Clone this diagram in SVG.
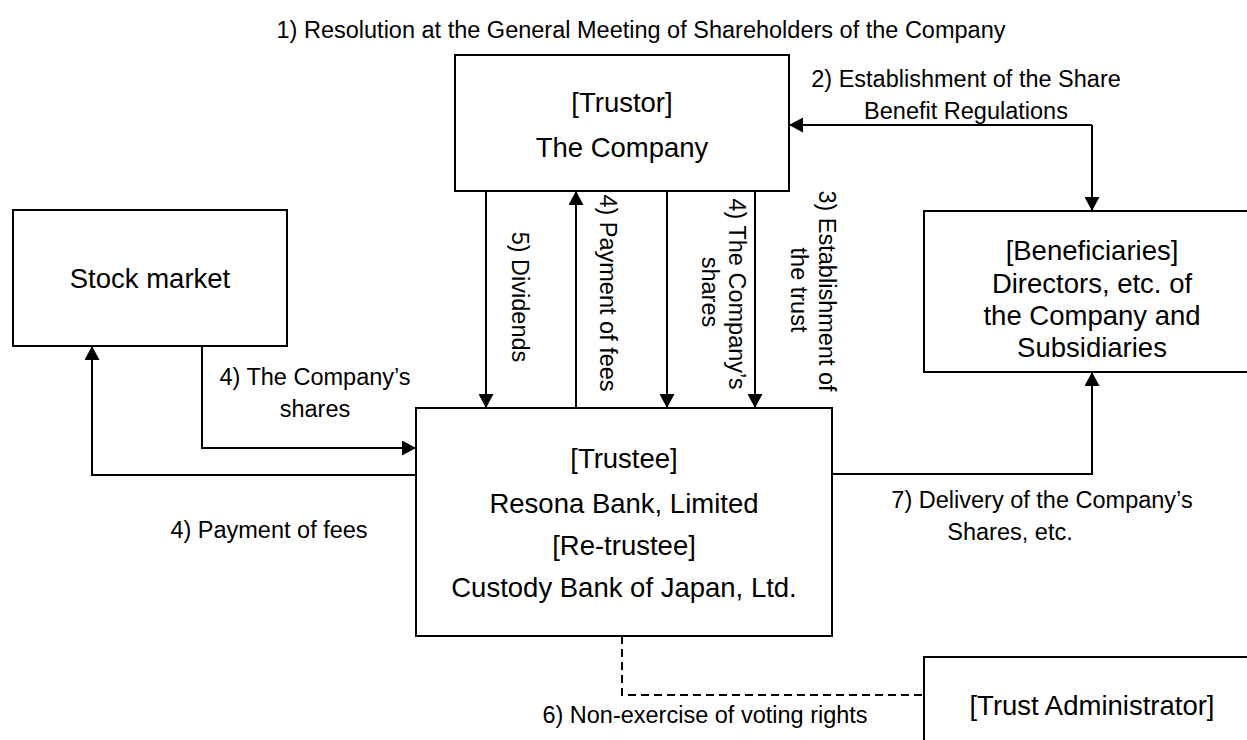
<svg xmlns="http://www.w3.org/2000/svg" width="1247" height="740" viewBox="0 0 1247 740">
<style>
.box{fill:#fff;stroke:#000;stroke-width:2}
.nt{font-family:"Liberation Sans",Arial,sans-serif;font-size:27.5px;fill:#000;text-anchor:middle}
.lb{font-family:"Liberation Sans",Arial,sans-serif;font-size:23.5px;fill:#000;text-anchor:middle}
.ln{fill:none;stroke:#000;stroke-width:2}
.arr{marker-end:url(#ah)}
.dash{fill:none;stroke:#000;stroke-width:2;stroke-dasharray:8 5}
</style>
<defs>
<marker id="ah" markerUnits="userSpaceOnUse" markerWidth="15" markerHeight="15" refX="14" refY="7.5" orient="auto-start-reverse">
<path d="M0,0 L14,7.5 L0,15 Z" fill="#000"/>
</marker>
</defs>
<rect width="1247" height="740" fill="#fff"/>

<g id="connectors">
<path class="ln arr" d="M486,191 V408"/>
<path class="ln arr" d="M576,408 V191"/>
<path class="ln arr" d="M667,191 V408"/>
<path class="ln arr" d="M755,191 V408"/>
<path class="ln arr" d="M1092,125 H789" />
<path class="ln arr" d="M1092,125 V211"/>
<path class="ln arr" d="M832,474 H1092 V372"/>
<path class="ln arr" d="M202,346 V448 H416"/>
<path class="ln arr" d="M416,475 H92 V346"/>
<path class="dash" d="M622,636 V695 H924"/>
</g>

<g id="labels">
<text class="lb" x="641" y="38">1) Resolution at the General Meeting of Shareholders of the Company</text>
<text class="lb" x="966" y="87">2) Establishment of the Share</text>
<text class="lb" x="966" y="119">Benefit Regulations</text>
<text class="lb" transform="translate(512,297) rotate(90)">5) Dividends</text>
<text class="lb" transform="translate(600,293) rotate(90)">4) Payment of fees</text>
<text class="lb" transform="translate(729,294) rotate(90)">4) The Company’s</text>
<text class="lb" transform="translate(702,292) rotate(90)">shares</text>
<text class="lb" transform="translate(819,291) rotate(90)">3) Establishment of</text>
<text class="lb" transform="translate(791,290) rotate(90)">the trust</text>
<text class="lb" x="315" y="385">4) The Company’s</text>
<text class="lb" x="315" y="417">shares</text>
<text class="lb" x="269" y="538">4) Payment of fees</text>
<text class="lb" x="1042" y="508">7) Delivery of the Company’s</text>
<text class="lb" x="1010" y="540">Shares, etc.</text>
<text class="lb" x="705" y="723">6) Non-exercise of voting rights</text>
</g>

<g id="trustor">
<rect class="box" x="455" y="55" width="334" height="136"/>
<text class="nt" x="622" y="112">[Trustor]</text>
<text class="nt" x="622" y="157">The Company</text>
</g>

<g id="stock-market">
<rect class="box" x="13" y="210" width="274" height="136"/>
<text class="nt" x="150" y="288">Stock market</text>
</g>

<g id="beneficiaries">
<rect class="box" x="924" y="211" width="336" height="161"/>
<text class="nt" x="1092" y="260">[Beneficiaries]</text>
<text class="nt" x="1092" y="293">Directors, etc. of</text>
<text class="nt" x="1092" y="325">the Company and</text>
<text class="nt" x="1092" y="357">Subsidiaries</text>
</g>

<g id="trustee">
<rect class="box" x="416" y="408" width="416" height="228"/>
<text class="nt" x="624" y="468">[Trustee]</text>
<text class="nt" x="624" y="513">Resona Bank, Limited</text>
<text class="nt" x="624" y="555">[Re-trustee]</text>
<text class="nt" x="624" y="597">Custody Bank of Japan, Ltd.</text>
</g>

<g id="trust-administrator">
<rect class="box" x="924" y="657" width="336" height="100"/>
<text class="nt" x="1092" y="715">[Trust Administrator]</text>
</g>
</svg>
